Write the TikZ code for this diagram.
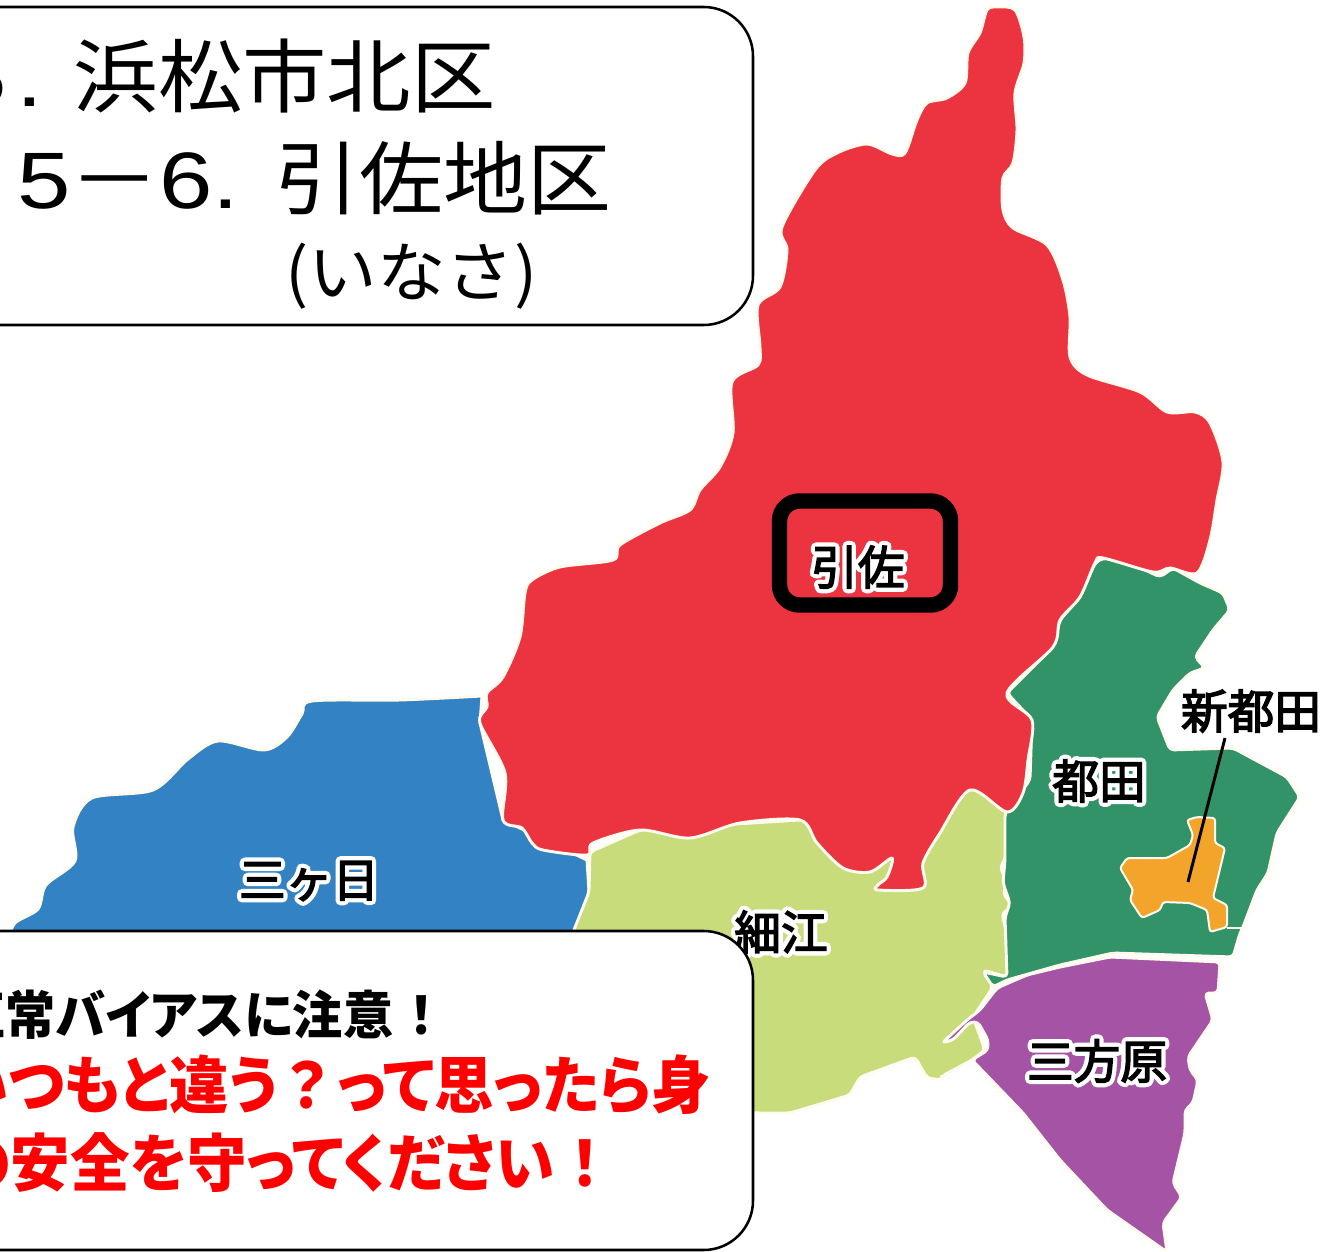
\documentclass[tikz,border=0pt]{standalone}
\usepackage{fontspec}
\setmainfont{Noto Sans CJK JP}
\newfontfamily\jpb[RawFeature=+palt]{Noto Sans CJK JP}
\newfontfamily\latinbody{Liberation Sans}
\newcommand{\halotext}[1]{\makebox[0pt][l]{\textcolor{white}{\special{pdf:code q 2 Tr 7.5 w 1 J 1 j}#1\special{pdf:code Q}}}\special{pdf:code q 2 Tr 1.1 w}#1\special{pdf:code Q}}
\newcommand{\latnum}[1]{\scalebox{1.2}[1]{\latinbody #1}}
\definecolor{mapred}{HTML}{EC3340}
\definecolor{mapblue}{HTML}{3383C4}
\definecolor{maplime}{HTML}{C8DC7C}
\definecolor{mapgreen}{HTML}{329268}
\definecolor{mappurple}{HTML}{A553A5}
\definecolor{maporange}{HTML}{F2A52A}
\definecolor{mapline}{HTML}{FFFBEF}
\tikzset{
  region/.style={draw=mapline,line width=2.2pt,line join=round},
  softregion/.style={region,rounded corners=3pt},
  infobox/.style={draw=black,fill=white,line width=1.9pt,rounded corners=37pt},
  title/.style={inner sep=0pt,anchor=base east,text=black},
  warn/.style={inner sep=0pt,anchor=base east},
  maplabel/.style={inner sep=0pt,font=\fontsize{35}{35}\selectfont},
}
\begin{document}
\begin{tikzpicture}[x=0.75pt,y=-0.75pt]
\useasboundingbox (0,0) rectangle (1321,1252);
% blue
\fill[mapblue,region] plot[smooth,tension=0.5] coordinates {(482,696)(400,700)(312,701)(302,714)(287,737)(264,750)(218,741)(188,759)(153,790)(92,798)(73,827)(75,861)(46,885)(38,909)(15,923)(8,940)} -- (8,1000) -- (600,1000) -- (589,892) -- (587,860) -- (503,820) -- (480,723) -- cycle;
% lime
\fill[maplime,softregion] (590,852) -- (640,830) -- (800,820) -- (880,810) -- (965,786) -- (975,786) -- (1007,812) -- (1005,860) -- (1000,867) -- (1008,883) -- (1003,893) -- (1013,907) -- (1002,913) -- (1008,940) -- (1007,977) -- (983,970) -- (993,987) -- (973,1017) -- (985,1050) -- (972,1060) -- (942,1076) -- (942,1080) -- (927,1078) -- (915,1057) -- (860,1077) -- (850,1095) -- (790,1113) -- (757,1113) -- (600,1100) -- (560,1000) -- (572,935) -- (589,892) -- cycle;
% green
\fill[mapgreen,softregion] (1095,563) -- (1103,558) -- (1130,563) -- (1160,577) -- (1173,568) -- (1200,583) -- (1223,593) -- (1230,610) -- (1213,630) -- (1195,657) -- (1205,668) -- (1190,673) -- (1173,690) -- (1157,717) -- (1170,750) -- (1233,748) -- (1287,777) -- (1300,797) -- (1277,833) -- (1268,873) -- (1257,890) -- (1243,927) -- (1240,933) -- (1233,957) -- (1113,953) -- (1060,965) -- (1007,980) -- (993,987) -- (983,972) -- (1007,977) -- (1005,917) -- (1010,903) -- (1003,883) -- (1005,860) -- (1005,813) -- (1030,780) -- (1032,720) -- (1007,693) -- (1053,647) -- (1060,620) -- (1080,597) -- cycle;
% red
\fill[mapred,region] plot[smooth cycle,tension=0.5] coordinates {(987,10)(997,7)(1015,10)(1024,37)(1024,63)(1015,93)(1017,130)(1013,163)(1003,178)(1003,210)(1013,228)(1047,245)(1063,280)(1070,317)(1070,357)(1087,375)(1140,392)(1167,412)(1195,412)(1210,423)(1223,462)(1217,500)(1210,540)(1197,573)(1170,568)(1153,572)(1103,558)(1095,563)(1080,597)(1060,620)(1053,647)(1007,693)(1032,720)(1028,760)(1023,793)(1007,812)(970,790)(940,833)(923,863)(923,888)(878,890)(878,885)(887,877)(892,858)(870,872)(843,868)(817,843)(800,820)(740,823)(690,838)(640,830)(593,843)(587,855)(543,850)(532,843)(522,828)(503,820)(505,773)(480,723)(487,707)(487,693)(503,677)(520,637)(525,593)(532,580)(560,567)(613,560)(620,545)(660,523)(690,510)(700,490)(720,467)(733,433)(732,382)(758,365)(760,347)(758,305)(780,287)(787,250)(782,227)(815,170)(837,153)(867,144)(892,154)(905,153)(917,120)(927,103)(947,98)(965,83)(968,53)(980,33)};
% purple
\fill[mappurple,softregion] (980,1010) -- (997,988) -- (1027,975) -- (1060,967) -- (1110,957) -- (1220,962) -- (1218,993) -- (1205,993) -- (1213,1020) -- (1188,1057) -- (1190,1070) -- (1198,1080) -- (1193,1103) -- (1185,1110) -- (1185,1133) -- (1173,1183) -- (1182,1197) -- (1163,1223) -- (1167,1252) -- (1107,1210) -- (1060,1160) -- (1023,1113) -- (972,1060) -- (988,1050) -- (988,1040) -- (978,1022) -- (970,1022) -- (953,1040) -- (942,1043) -- (967,1020) -- cycle;
% orange
\fill[maporange,draw=mapline,line width=1.5pt,rounded corners=2pt] (1120,868) -- (1127,858) -- (1167,858) -- (1190,845) -- (1193,835) -- (1187,820) -- (1197,817) -- (1215,818) -- (1215,843) -- (1225,848) -- (1213,898) -- (1227,905) -- (1227,927) -- (1210,932) -- (1207,910) -- (1190,903) -- (1163,902) -- (1160,910) -- (1142,918) -- (1130,900) -- (1133,890) -- cycle;
\draw[mapline,line width=1.5pt] (1227,928) -- (1245,928);
% leader
\coordinate (leadtop) at (1225,738);
\coordinate (leadend) at (1188,882);
\draw[black,line width=2.2pt] (leadtop) -- (leadend);
% labels
\node[maplabel] (lbhikisa) at (858,567) {\halotext{引佐}};
\node[maplabel] (lbmikkabi) at (309,881) {\halotext{三ヶ日}};
\node[maplabel] (lbhosoe) at (781,932) {\halotext{細江}};
\node[maplabel] (lbmiyakoda) at (1099,781) {\halotext{都田}};
\node[maplabel] (lbshin) at (1251,711) {\halotext{新都田}};
\node[maplabel] (lbmikata) at (1097,1061) {\halotext{三方原}};
% black frame
\draw[black,line width=11.6pt,rounded corners=15pt] (779.5,501) rectangle (950.5,605);
% boxes
\draw[infobox] (-80,7) rectangle (753,325);
\draw[infobox] (-80,931) rectangle (753,1250);
\node[title,font=\fontsize{60}{60}\selectfont] (ttl1) at (496,107) {\makebox[47.25pt][l]{\latnum{5}}\makebox[42.75pt][l]{\latnum{.}}\scalebox{1.055}[1]{浜松市北区}};
\node[title,font=\fontsize{60}{60}\selectfont] (ttl2) at (612,209) {\makebox[48.75pt][l]{\latnum{5}}\makebox[47.25pt][c]{\scalebox{1.13}[1]{－}}\hspace{10.5pt}\makebox[39.75pt][l]{\latnum{6}}\makebox[47.25pt][l]{\latnum{.}}\scalebox{1.05}[1]{引佐地区}};
\node[title,font=\fontsize{49}{49}\selectfont] (ttl3) at (538,296) {\scalebox{1.05}[1]{(いなさ)}};
\node[warn,font=\jpb\bfseries\fontsize{39}{39}\selectfont] (w1) at (434,1034) {\scalebox{0.965}[1]{正常バイアスに注意\hspace{12pt}！}};
\node[warn,text=red,font=\jpb\bfseries\fontsize{47}{47}\selectfont] (w2) at (711,1108) {\scalebox{0.947}[1]{いつもと違う\hspace{7pt}？\hspace{7pt}って思ったら身}};
\node[warn,text=red,font=\jpb\bfseries\fontsize{47}{47}\selectfont] (w3) at (600,1186) {\scalebox{0.95}[1]{の安全を守ってください\hspace{12pt}！}};
\end{tikzpicture}
\end{document}
